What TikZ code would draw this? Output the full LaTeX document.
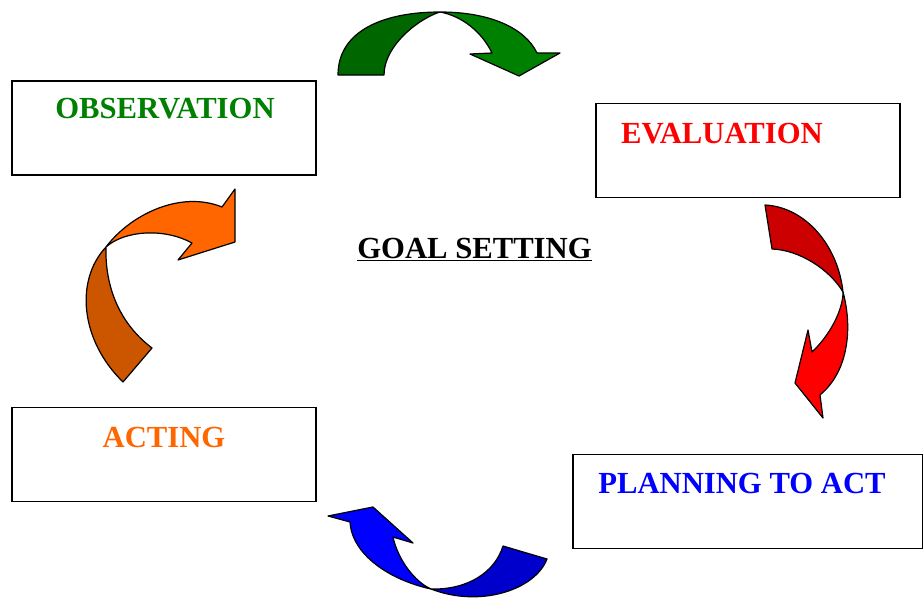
\documentclass[tikz,border=0pt]{standalone}
\usepackage{fontspec}
\setmainfont{Liberation Serif}
\usepackage{xcolor}
\usepackage{tikz}
\usetikzlibrary{positioning}

\definecolor{obsgreen}{HTML}{008000}
\definecolor{darkgreen}{HTML}{006600}
\definecolor{evalred}{HTML}{FF0000}
\definecolor{darkred}{HTML}{CC0000}
\definecolor{planblue}{HTML}{0000FF}
\definecolor{darkblue}{HTML}{0000CC}
\definecolor{actorange}{HTML}{FF6600}
\definecolor{darkorange}{HTML}{CC5500}

\begin{document}
\begin{tikzpicture}[x=0.75pt, y=-0.75pt,
    stagebox/.style={draw, line width=1pt, minimum width=228pt, minimum height=70.5pt, inner sep=0pt},
    stagetext/.style={font=\fontsize{23}{26}\selectfont\bfseries, anchor=base, inner sep=0pt},
    bentarrow/.style={draw, line width=0.9pt, line join=round}]
    \useasboundingbox (0,0) rectangle (924,600);

    % the four stages
    \node[stagebox] (obs) at (164,128) {};
    \node[stagebox] (eval) at (748,150.5) {};
    \node[stagebox] (act) at (164,454.5) {};
    \node[stagebox, minimum width=262pt] (plan) at (747.5,501.5) {};

    \node[stagetext, text=obsgreen] (obstxt) at (165,118) {OBSERVATION};
    \node[stagetext, text=evalred] (evaltxt) at (722,143) {EVALUATION};
    \node[stagetext, text=actorange] (acttxt) at (164,447) {ACTING};
    \node[stagetext, text=planblue] (plantxt) at (742,493) {PLANNING TO ACT};
    \node[stagetext] (goal) at (474.5,258) {\underline{GOAL SETTING}};

    % top arrow (green)
    \filldraw[bentarrow, fill=darkgreen] (338,75) .. controls (338,30) and (385,12) .. (440,12)
        .. controls (420,18) and (384,45) .. (384,75) -- cycle;
    \filldraw[bentarrow, fill=obsgreen] (440,12) .. controls (490,12) and (525,28) .. (537,53)
        -- (560,53) -- (519,76) -- (470,54) -- (492,53)
        .. controls (482,32) and (462,16) .. (440,12) -- cycle;

    % right arrow (red)
    \filldraw[bentarrow, fill=darkred] (765,205) .. controls (805,207) and (838,245) .. (843,292)
        .. controls (830,270) and (800,250) .. (772,249) -- cycle;
    \filldraw[bentarrow, fill=evalred] (843,292) .. controls (852,325) and (850,370) .. (820,395)
        -- (823,418) -- (795,383) -- (808,330) -- (812,352)
        .. controls (830,335) and (843,310) .. (843,292) -- cycle;

    % bottom arrow (blue)
    \filldraw[bentarrow, fill=darkblue] (431,589) .. controls (468,590) and (495,572) .. (503,546)
        -- (547,559) .. controls (535,590) and (480,608) .. (431,589) -- cycle;
    \filldraw[bentarrow, fill=planblue] (431,589) .. controls (390,580) and (352,555) .. (350,522)
        -- (328,516) -- (373,507) -- (413,543) -- (393,537)
        .. controls (398,560) and (415,582) .. (431,589) -- cycle;

    % left arrow (orange)
    \filldraw[bentarrow, fill=darkorange] (123,382) .. controls (80,340) and (75,280) .. (106,247)
        .. controls (105,280) and (115,320) .. (152,348) -- cycle;
    \filldraw[bentarrow, fill=actorange] (106,247) .. controls (130,215) and (180,190) .. (222,207)
        -- (235,189) -- (235,242) -- (178,260) -- (192,243)
        .. controls (165,228) and (125,230) .. (106,247) -- cycle;
\end{tikzpicture}
\end{document}
